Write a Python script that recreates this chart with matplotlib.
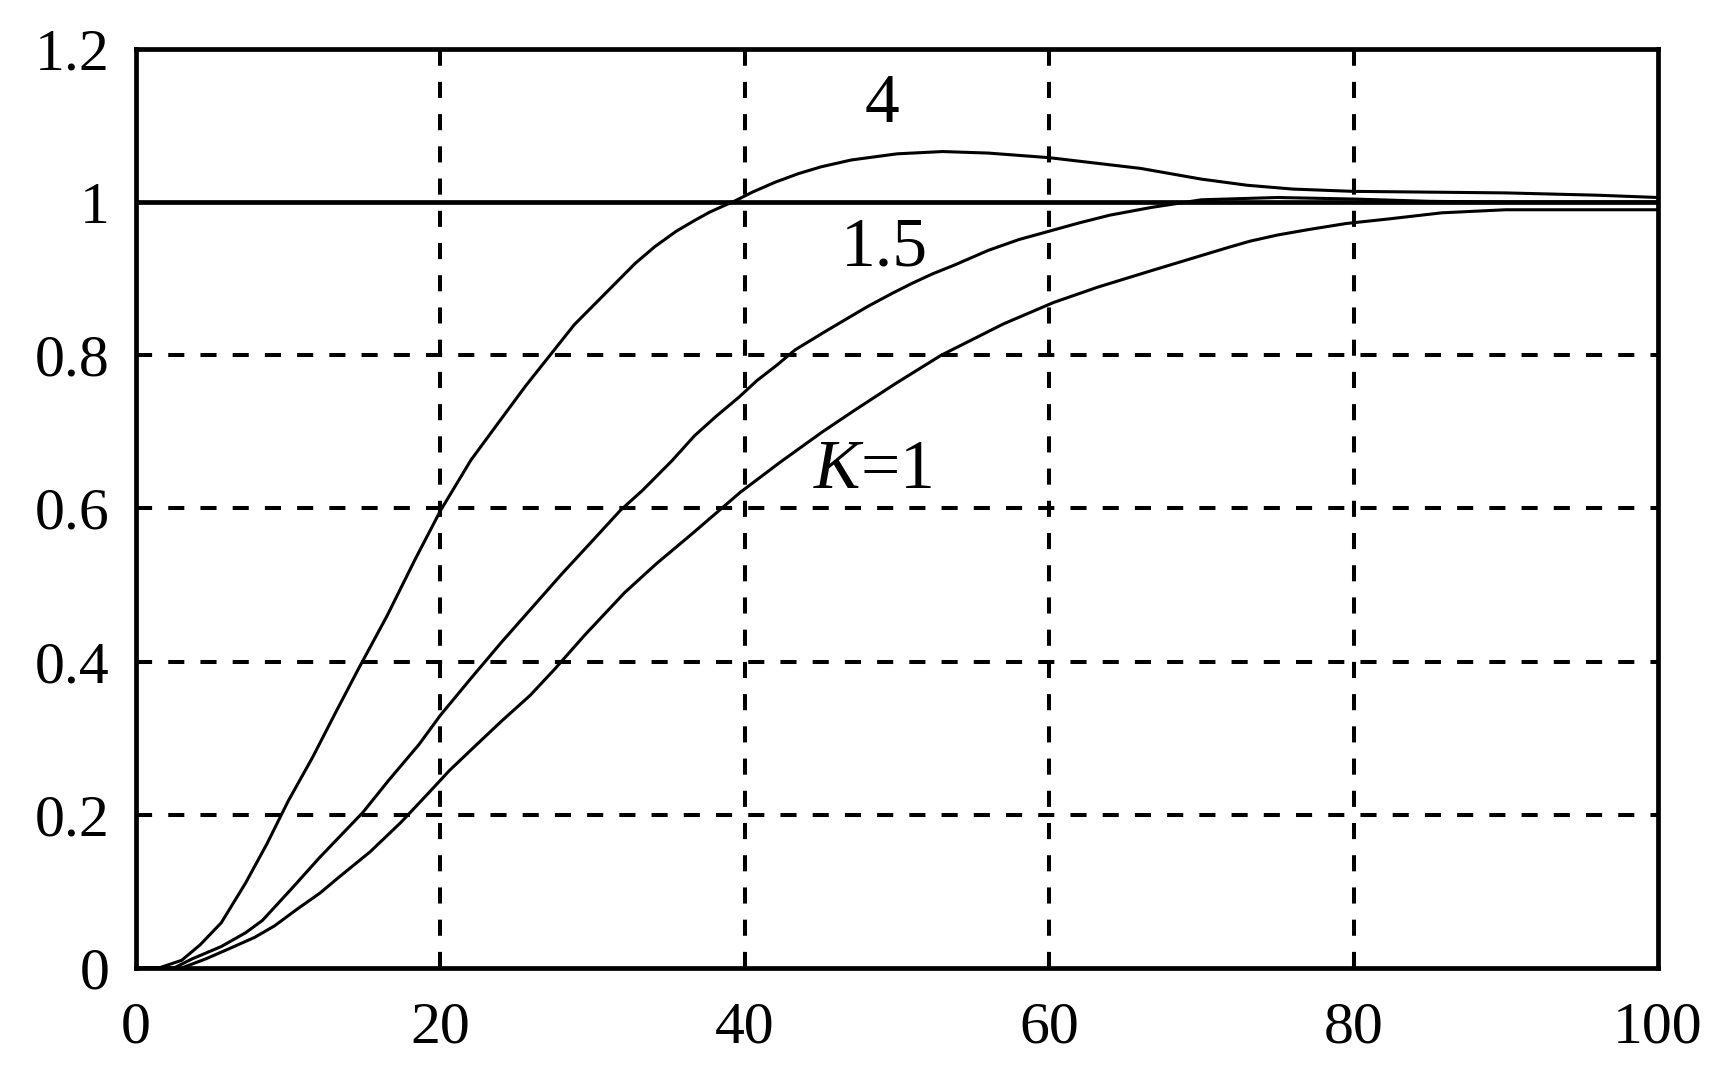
import numpy as np
import matplotlib
matplotlib.use("Agg")
import matplotlib.pyplot as plt

plt.rcParams['font.family'] = ['Liberation Serif', 'DejaVu Serif']
plt.rcParams['mathtext.fontset'] = 'custom'
plt.rcParams['mathtext.rm'] = 'Liberation Serif'
plt.rcParams['mathtext.it'] = 'Liberation Serif:italic'

# step responses
x_k4 = [0, 1.5, 3, 4.2, 5.6, 7.2, 8.6, 10.0, 11.6, 13.1, 14.6, 16.5, 18.3, 20, 22, 24, 25.6, 27.2,
        28.8, 30.4, 31.6, 32.8, 34.1, 35.5, 36.7, 37.7, 38.6, 39.4, 40.5, 42, 43.5, 45, 47, 50, 53, 56, 60,
        63, 66, 68, 70, 73, 76, 80, 90, 96, 100]
y_k4 = [0, 0, 0.01, 0.03, 0.059, 0.111, 0.162, 0.218, 0.275, 0.333, 0.39, 0.46, 0.532, 0.597, 0.663, 0.717, 0.76, 0.8,
        0.84, 0.872, 0.896, 0.92, 0.942, 0.962, 0.976, 0.987, 0.995, 1.002, 1.013, 1.026, 1.037, 1.046, 1.055, 1.063, 1.066, 1.064, 1.058,
        1.051, 1.044, 1.037, 1.03, 1.022, 1.017, 1.014, 1.012, 1.009, 1.006]

x_k15 = [0, 2.5, 3.7, 5.6, 7.2, 8.3, 10.2, 12.1, 14.9, 16.6, 18.6, 20, 22, 24, 26, 28, 30, 31.8, 33.3, 35.2,
         36.7, 38.1, 39.6, 40.8, 42.1, 43.3, 45.2, 46.9, 48.1, 49.7, 51.0, 52.3, 53.8, 56.0, 58.0, 60,
         62, 64, 66.7, 70, 75, 80, 85, 90, 100]
y_k15 = [0, 0, 0.012, 0.028, 0.046, 0.062, 0.103, 0.145, 0.203, 0.245, 0.292, 0.33, 0.378, 0.425, 0.47, 0.515, 0.558, 0.597, 0.624, 0.662,
         0.695, 0.72, 0.745, 0.767, 0.787, 0.807, 0.83, 0.85, 0.864, 0.881, 0.894, 0.906, 0.918, 0.937, 0.951, 0.962,
         0.973, 0.983, 0.993, 1.003, 1.006, 1.004, 1.001, 1.0, 1.0]

x_k1 = [0, 3, 4.6, 6.1, 7.8, 9.1, 10.6, 12.1, 13.3, 15.4, 17.4, 19.2, 20.6, 22.4, 24.0, 25.9, 27.5, 29.5,
        32.1, 34.2, 36.6, 39.7, 42.3, 45.1, 47.2, 49.9, 52.9, 54.7, 57.0, 60.3, 63.2, 66.8, 69.3,
        71.8, 73.2, 75, 77, 79.5, 82.3, 85.8, 90, 100]
y_k1 = [0, 0, 0.012, 0.025, 0.04, 0.055, 0.077, 0.098, 0.118, 0.152, 0.19, 0.228, 0.258, 0.292, 0.322, 0.356, 0.39, 0.435,
        0.49, 0.528, 0.568, 0.621, 0.66, 0.7, 0.728, 0.763, 0.8, 0.818, 0.841, 0.869, 0.889, 0.911, 0.926,
        0.941, 0.949, 0.957, 0.964, 0.972, 0.978, 0.986, 0.99, 0.99]

curve_labels = ['4', '1.5', r'$\mathit{K}$=1']
label_x = [49.0, 49.2, 48.4]
label_y = [1.126, 0.939, 0.649]

xticks = [0, 20, 40, 60, 80, 100]
yticks = [0, 0.2, 0.4, 0.6, 0.8, 1.0, 1.2]
ytick_labels = ['0', '0.2', '0.4', '0.6', '0.8', '1', '1.2']

fig = plt.figure(figsize=(17.11, 10.87), dpi=100)
ax = fig.add_axes([0.0795, 0.1095, 0.8895, 0.8455])

# dashed grid, solid line at 1
for xv in xticks[1:-1]:
    ax.axvline(xv, color='black', lw=2.9, dashes=(4, 4), zorder=1)
for yv in yticks[1:5]:
    ax.axhline(yv, color='black', lw=2.9, dashes=(4, 4), zorder=1)
ax.axhline(1.0, color='black', lw=3.4, zorder=1)

for xs, ys in [(x_k4, y_k4), (x_k15, y_k15), (x_k1, y_k1)]:
    ax.plot(xs, ys, color='black', lw=2.2, zorder=2)

for t, lx, ly in zip(curve_labels, label_x, label_y):
    ax.text(lx, ly, t, fontsize=50, ha='center', va='center')

ax.set_xlim(0, 100)
ax.set_ylim(0, 1.2)
ax.set_xticks(xticks)
ax.set_xticklabels([str(v) for v in xticks])
ax.set_yticks(yticks)
ax.set_yticklabels(ytick_labels)
ax.tick_params(length=0, labelsize=43)
ax.tick_params(axis='y', pad=19)
ax.tick_params(axis='x', pad=24)
for s in ax.spines.values():
    s.set_linewidth(3.4)

fig.savefig('out.png', dpi=100, facecolor='white')
